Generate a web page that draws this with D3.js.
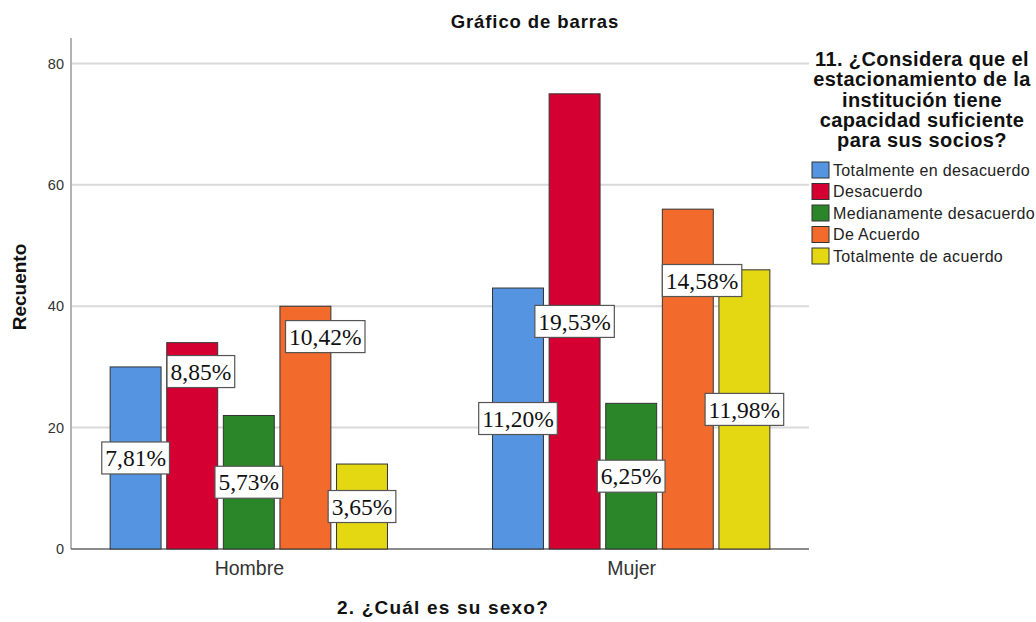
<!DOCTYPE html>
<html>
<head>
<meta charset="utf-8">
<script src="https://cdn.jsdelivr.net/npm/d3@7"></script>
<style>
  html, body { margin: 0; padding: 0; background: #fff; }
  svg { display: block; }
</style>
</head>
<body>
<svg id="chart" width="1036" height="622"></svg>
<script>
// ---- Data ----
const categories = ["Hombre", "Mujer"];
const seriesNames = ["Totalmente en desacuerdo", "Desacuerdo", "Medianamente desacuerdo", "De Acuerdo", "Totalmente de acuerdo"];
const hombreValues = [30, 34, 22, 40, 14];
const mujerValues = [43, 75, 24, 56, 46];
const hombrePct = ["7,81%", "8,85%", "5,73%", "10,42%", "3,65%"];
const mujerPct = ["11,20%", "19,53%", "6,25%", "14,58%", "11,98%"];
const yTicks = [0, 20, 40, 60, 80];

// ---- Layout / style ----
const colors = ["#5594E0", "#D50031", "#2A8629", "#F26B2C", "#E3D812"];
// label anchor (fraction of bar height) and horizontal nudge (fraction of bar width) - SPSS collision layout
const labelFrac = { Hombre: [0.5, 0.86, 0.5, 0.875, 0.5], Mujer: [0.5, 0.5, 0.5, 0.79, 0.5] };
const labelNudge = { Hombre: [0, 0.17, 0, 0.39, 0], Mujer: [0, 0, 0, 0.28, 0] };

const sans = "Arial, 'Liberation Sans', sans-serif";
const svg = d3.select("#chart");
const pLeft = 71, pRight = 809, pTop = 38, pBottom = 549;

const y = d3.scaleLinear().domain([0, 84.2]).range([pBottom, pTop]);
const x = d3.scalePoint().domain(categories).range([pLeft, pRight]).padding(0.465);
const xs = d3.scaleBand().domain(d3.range(seriesNames.length)).range([-141.5, 141.5]).paddingInner(0.1).paddingOuter(0.05);

const data = [
  { cat: "Hombre", vals: hombreValues, pct: hombrePct },
  { cat: "Mujer", vals: mujerValues, pct: mujerPct }
];

// gridlines
svg.append("g").selectAll("line").data(yTicks.filter(d => d > 0)).join("line")
  .attr("x1", pLeft + 1).attr("x2", pRight)
  .attr("y1", d => y(d)).attr("y2", d => y(d))
  .attr("stroke", "#d9d9d9").attr("stroke-width", 2);

// y axis
const yAxis = d3.axisLeft(y).tickValues(yTicks).tickSize(0).tickPadding(7);
const gy = svg.append("g").attr("transform", `translate(${pLeft},0)`).call(yAxis);
gy.select(".domain").remove();
gy.selectAll("text").attr("font-family", sans).attr("font-size", 14.5).attr("fill", "#333");
svg.append("line").attr("x1", pLeft).attr("x2", pLeft).attr("y1", pTop).attr("y2", pBottom)
  .attr("stroke", "#999").attr("stroke-width", 1.5);

// x axis
const xAxis = d3.axisBottom(x).tickSize(0).tickPadding(12);
const gx = svg.append("g").attr("transform", `translate(0,${pBottom})`).call(xAxis);
gx.select(".domain").remove();
gx.selectAll("text").attr("font-family", sans).attr("font-size", 19.5).attr("fill", "#333");
svg.append("line").attr("x1", pLeft).attr("x2", pRight).attr("y1", pBottom).attr("y2", pBottom)
  .attr("stroke", "#666").attr("stroke-width", 1.5);

// bars
const groups = svg.append("g").selectAll("g").data(data).join("g")
  .attr("transform", d => `translate(${x(d.cat)},0)`);
groups.selectAll("rect").data(d => d.vals.map((v, i) => ({ v, i, cat: d.cat }))).join("rect")
  .attr("x", d => xs(d.i)).attr("width", xs.bandwidth())
  .attr("y", d => y(d.v)).attr("height", d => y(0) - y(d.v))
  .attr("fill", d => colors[d.i]).attr("stroke", "#333").attr("stroke-width", 1);

// labels
const labelFont = "'Liberation Serif', 'Times New Roman', serif";
const lab = groups.selectAll("g.lab").data(d => d.vals.map((v, i) => ({ v, i, cat: d.cat, t: d.pct[i] }))).join("g")
  .attr("class", "lab")
  .attr("transform", d => {
    const cx = xs(d.i) + xs.bandwidth() / 2 + labelNudge[d.cat][d.i] * xs.bandwidth();
    const cy = y(d.v * labelFrac[d.cat][d.i]);
    return `translate(${cx},${cy})`;
  });
lab.append("rect").attr("class", "box");
lab.append("text")
  .attr("text-anchor", "middle").attr("dy", "0.35em")
  .attr("font-family", labelFont).attr("font-size", 23.5).attr("fill", "#111")
  .text(d => d.t);
lab.each(function() {
  const g = d3.select(this);
  const w = g.select("text").node().getComputedTextLength() + 7;
  g.select("rect.box").attr("x", -w / 2).attr("y", -16).attr("width", w).attr("height", 32)
    .attr("fill", "#fff").attr("stroke", "#555").attr("stroke-width", 1.2);
});

// titles
svg.append("text").attr("x", 535).attr("y", 28).attr("text-anchor", "middle")
  .attr("font-family", sans).attr("font-weight", "bold").attr("font-size", 18.5).attr("letter-spacing", 0.9).attr("fill", "#111")
  .text("Gráfico de barras");
svg.append("text").attr("transform", "translate(26,287) rotate(-90)").attr("text-anchor", "middle")
  .attr("font-family", sans).attr("font-weight", "bold").attr("font-size", 19).attr("fill", "#111")
  .text("Recuento");
svg.append("text").attr("x", 443).attr("y", 614).attr("text-anchor", "middle")
  .attr("font-family", sans).attr("font-weight", "bold").attr("font-size", 19).attr("letter-spacing", 1.2).attr("fill", "#111")
  .text("2. ¿Cuál es su sexo?");

// legend
const legendTitle = ["11. ¿Considera que el", "estacionamiento de la", "institución tiene", "capacidad suficiente", "para sus socios?"];
svg.append("g").selectAll("text").data(legendTitle).join("text")
  .attr("x", 922).attr("y", (d, i) => 66 + i * 20.3).attr("text-anchor", "middle")
  .attr("font-family", sans).attr("font-weight", "bold").attr("font-size", 20).attr("letter-spacing", 0.4).attr("fill", "#111")
  .text(d => d);
const leg = svg.append("g").selectAll("g").data(seriesNames).join("g")
  .attr("transform", (d, i) => `translate(812,${162 + i * 21.5})`);
leg.append("rect").attr("width", 17).attr("height", 16)
  .attr("fill", (d, i) => colors[i]).attr("stroke", "#333").attr("stroke-width", 1);
leg.append("text").attr("x", 21).attr("y", 8).attr("dy", "0.35em")
  .attr("font-family", sans).attr("font-size", 16).attr("fill", "#222")
  .attr("letter-spacing", 0.35)
  .text(d => d);
</script>
</body>
</html>
